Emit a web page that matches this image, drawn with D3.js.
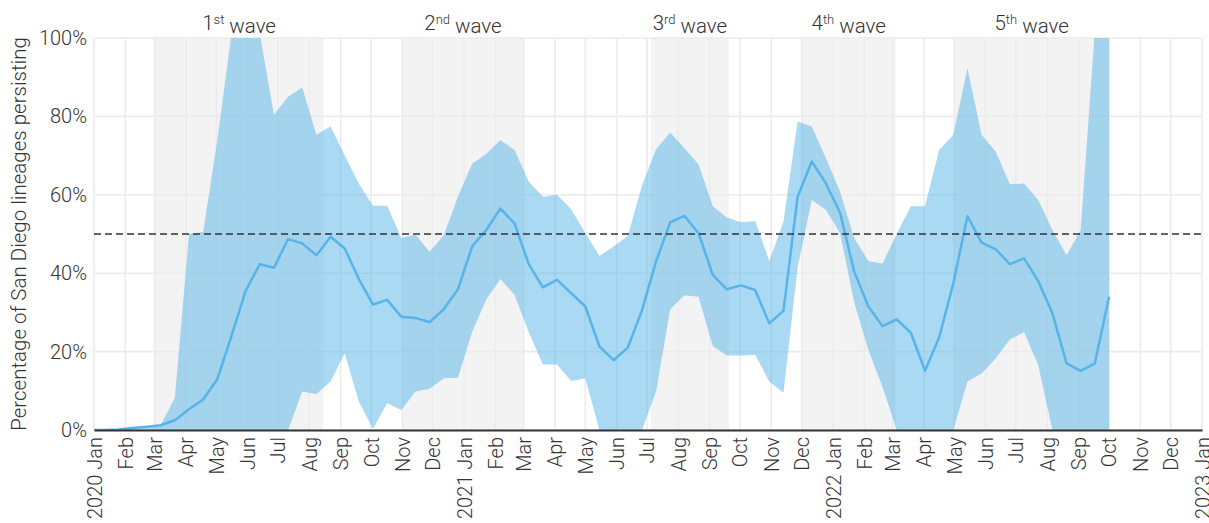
<!DOCTYPE html>
<html>
<head>
<meta charset="utf-8">
<script src="https://cdn.jsdelivr.net/npm/d3@7"></script>
<style>
  body { margin: 0; background: #fff; }
  svg text { font-family: Roboto, "Noto Sans", sans-serif; font-weight: 300; fill: #333; }
</style>
</head>
<body>
<div id="chart"></div>
<script>
// 1: DATA (biweekly estimates, percent)
const firstDate = "2019-12-28";
const stepDays = 14;

const lineValues = [
  0, 0, 0.1, 0.5, 0.8, 1.2, 2.5, 5.3, 7.8, 13,
  24, 35.5, 42.3, 41.4, 48.7, 47.6, 44.6, 49.3, 46.3, 38.5,
  32, 33.2, 28.9, 28.6, 27.5, 30.8, 35.9, 46.8, 51, 56.5,
  52.7, 42.3, 36.4, 38.3, 34.9, 31.5, 21.3, 17.8, 21, 30.5,
  43, 53, 54.6, 50.2, 39.6, 35.9, 36.9, 35.7, 27.2, 30.4,
  59.5, 68.5, 62.9, 55.4, 40.4, 31.5, 26.5, 28.2, 24.8, 15.1,
  23.6, 37.4, 54.6, 47.8, 46.1, 42.3, 43.8, 38, 29.8, 17,
  15.1, 17, 34
];

const upperValues = [
  0, 0, 0.1, 0.5, 0.8, 1.2, 8.3, 50, 50.5, 74,
  101, 115, 101, 80.4, 85, 87.4, 75.3, 77.4, 70, 62.8,
  57.2, 57.2, 49, 49.8, 45.5, 49.7, 59.5, 67.9, 70.4, 74,
  71.4, 63.4, 59.5, 60, 56.3, 50.2, 44.4, 46.8, 49.5, 62.3,
  71.6, 75.9, 71.9, 67.8, 57.1, 54.2, 53, 53.3, 43.1, 53.1,
  78.7, 77.4, 69.3, 60.8, 48.9, 43.1, 42.5, 50, 57.1, 57.1,
  71.4, 75.3, 92.3, 75.3, 71, 62.7, 62.9, 58.7, 51, 44.6,
  51, 102, 140
];

const lowerValues = [
  0, 0, 0, 0, 0, 0, 0, 0, 0, 0,
  0, 0, 0, 0, 0, 9.8, 9.2, 12.4, 19.6, 7.2,
  0.3, 6.9, 5.1, 9.8, 10.5, 13.2, 13.3, 25, 33.3, 38.5,
  34.5, 25, 16.7, 16.7, 12.5, 13.2, 0, 0, 0, 0,
  9.9, 30.8, 34.4, 34, 21.4, 19, 19, 19.2, 12.4, 9.5,
  41.5, 58.7, 56.1, 50.2, 32.5, 20.4, 11, 0, 0, 0,
  0, 0, 12.4, 14.4, 18.3, 23.1, 25, 16.6, 0, 0,
  0, 0, 0
];

const waveNums = ["1", "2", "3", "4", "5"];
const waveSups = ["st", "nd", "rd", "th", "th"];
const waveStarts = ["2020-03-01", "2020-11-01", "2021-07-05", "2021-12-01", "2022-05-01"];
const waveEnds = ["2020-08-15", "2021-03-01", "2021-09-20", "2022-03-04", "2022-10-01"];

const yTicks = [0, 20, 40, 60, 80, 100];
const threshold = 50;

// 2: LAYOUT
const W = 1209, H = 523;
const margin = { top: 38, right: 7, bottom: 93, left: 94 };
const width = W - margin.left - margin.right;
const height = H - margin.top - margin.bottom;

const parse = d3.timeParse("%Y-%m-%d");
const start = parse(firstDate);
const data = lineValues.map((v, i) => ({
  date: d3.timeDay.offset(start, i * stepDays),
  mid: v,
  hi: upperValues[i],
  lo: lowerValues[i]
}));

const svg = d3.select("#chart").append("svg")
  .attr("width", W)
  .attr("height", H)
  .append("g")
  .attr("transform", `translate(${margin.left},${margin.top})`);

// 3: SCALES
const x = d3.scaleTime()
  .domain([parse("2020-01-01"), parse("2023-01-01")])
  .range([0, width]);

const y = d3.scaleLinear()
  .domain([0, 100])
  .range([height, 0]);

svg.append("clipPath").attr("id", "plotclip")
  .append("rect").attr("x", 0).attr("y", 0).attr("width", width).attr("height", height);

// wave shading
svg.selectAll(".wave")
  .data(waveStarts)
  .enter()
  .append("rect")
  .attr("class", "wave")
  .attr("x", (d) => x(parse(d)))
  .attr("y", 0)
  .attr("width", (d, i) => x(parse(waveEnds[i])) - x(parse(d)))
  .attr("height", height)
  .attr("fill", "#f3f3f3");

// gridlines
const months = d3.timeMonth.range(parse("2020-01-01"), d3.timeDay.offset(parse("2023-01-01"), 1));
svg.append("g").selectAll("line")
  .data(months)
  .enter()
  .append("line")
  .attr("x1", (d) => x(d)).attr("x2", (d) => x(d))
  .attr("y1", 0).attr("y2", height)
  .attr("stroke", "#ebebeb")
  .attr("stroke-width", 1.6);

svg.append("g").selectAll("line")
  .data(yTicks)
  .enter()
  .append("line")
  .attr("x1", 0).attr("x2", width)
  .attr("y1", (d) => y(d)).attr("y2", (d) => y(d))
  .attr("stroke", "#ebebeb")
  .attr("stroke-width", 1.6);

// 4: BAND AND LINE
svg.append("path")
  .datum(data)
  .attr("clip-path", "url(#plotclip)")
  .attr("fill", "#56B4E9")
  .attr("fill-opacity", 0.5)
  .attr("d", d3.area()
    .x((d) => x(d.date))
    .y0((d) => y(d.lo))
    .y1((d) => y(d.hi)));

svg.append("path")
  .datum(data)
  .attr("clip-path", "url(#plotclip)")
  .attr("fill", "none")
  .attr("stroke", "#56B4E9")
  .attr("stroke-width", 2.5)
  .attr("stroke-linejoin", "round")
  .attr("d", d3.line()
    .x((d) => x(d.date))
    .y((d) => y(d.mid)));

// threshold
svg.append("line")
  .attr("x1", 0).attr("x2", width)
  .attr("y1", y(threshold)).attr("y2", y(threshold))
  .attr("stroke", "#333")
  .attr("stroke-width", 1.5)
  .attr("stroke-dasharray", "7,4");

// 5: AXES
const xAxis = svg.append("g")
  .attr("transform", `translate(0,${height})`)
  .call(d3.axisBottom(x)
    .ticks(d3.timeMonth.every(1))
    .tickSize(0)
    .tickFormat((d) => d.getMonth() === 0 ? d3.timeFormat("%Y %b")(d) : d3.timeFormat("%b")(d)));

xAxis.select(".domain").attr("stroke", "#333").attr("stroke-width", 1.8);
xAxis.selectAll("text")
  .attr("transform", "rotate(-90)")
  .attr("x", -7)
  .attr("y", 0)
  .attr("dy", "0.35em")
  .attr("text-anchor", "end")
  .style("font-size", "20px")
  .style("fill", "#333");

const yAxis = svg.append("g")
  .call(d3.axisLeft(y)
    .tickValues(yTicks)
    .tickSize(0)
    .tickFormat((d) => d + "%"));

yAxis.select(".domain").remove();
yAxis.selectAll("text")
  .attr("x", -7)
  .style("font-size", "20px")
  .style("fill", "#333");

// 6: LABELS
svg.append("text")
  .attr("transform", "rotate(-90)")
  .attr("x", -height / 2)
  .attr("y", -margin.left + 26)
  .attr("text-anchor", "middle")
  .style("font-size", "20.5px")
  .text("Percentage of San Diego lineages persisting");

const waveLabels = svg.selectAll(".waveLabel")
  .data(waveNums)
  .enter()
  .append("text")
  .attr("class", "waveLabel")
  .attr("x", (d, i) => (x(parse(waveStarts[i])) + x(parse(waveEnds[i]))) / 2)
  .attr("y", -8)
  .attr("text-anchor", "middle")
  .style("font-size", "20.5px");

waveLabels.append("tspan").text((d) => d);
waveLabels.append("tspan")
  .attr("dy", "-0.45em")
  .style("font-size", "13px")
  .text((d, i) => waveSups[i]);
waveLabels.append("tspan")
  .attr("dy", "0.45em")
  .text(" wave");
</script>
</body>
</html>
